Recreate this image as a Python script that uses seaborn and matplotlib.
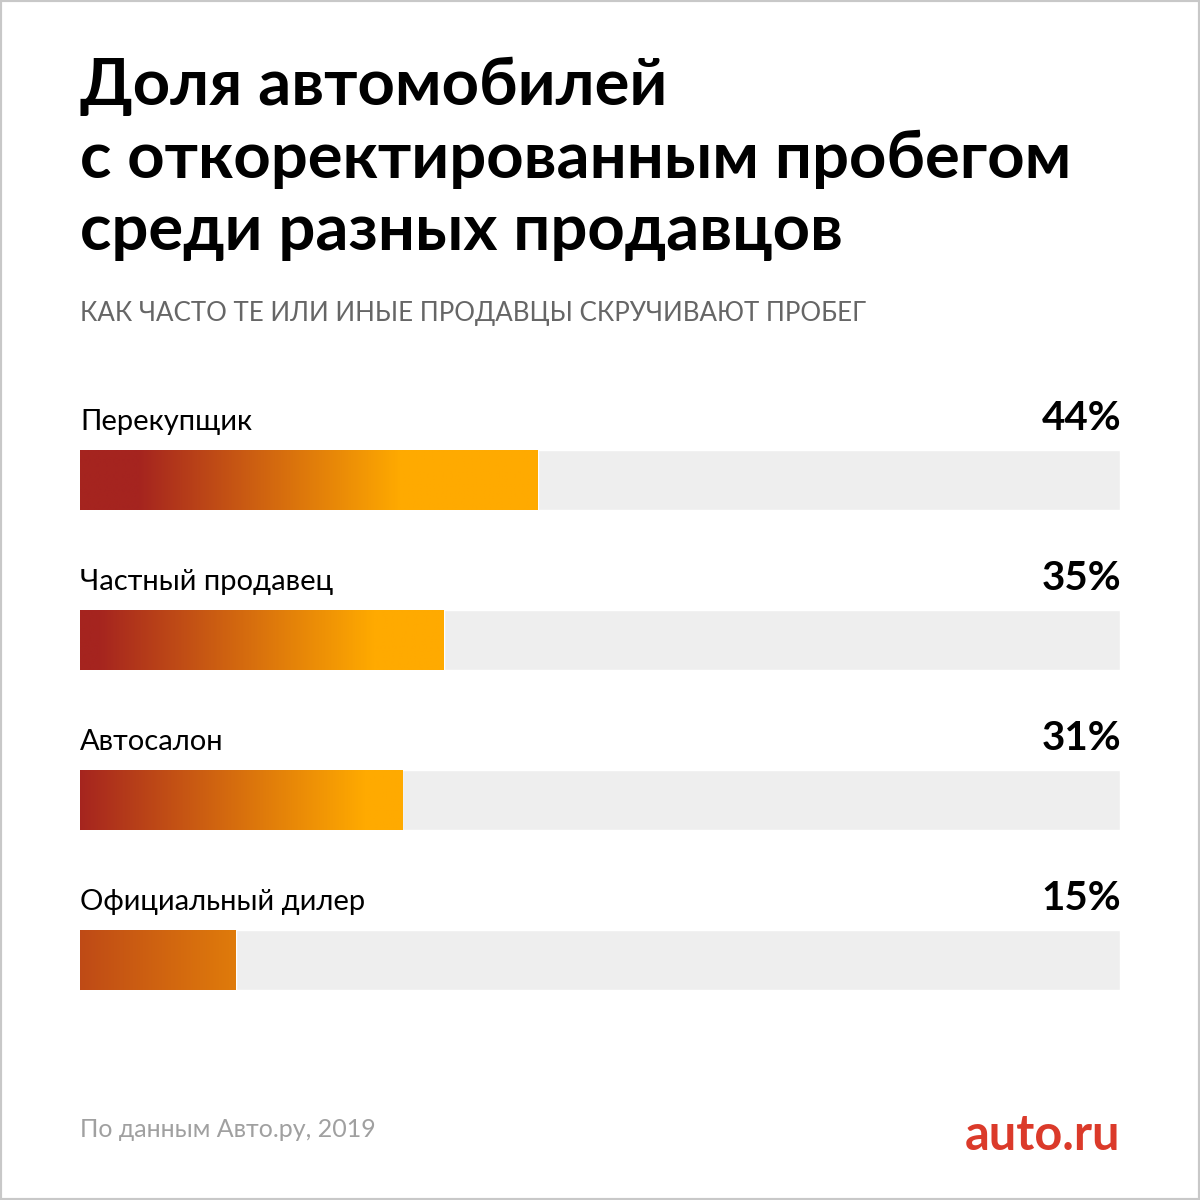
import numpy as np
import matplotlib
matplotlib.use("Agg")
import matplotlib.pyplot as plt
from matplotlib.colors import LinearSegmentedColormap
from matplotlib.patches import Rectangle
import seaborn as sns
import pandas as pd

sellers = ["Перекупщик", "Частный продавец", "Автосалон", "Официальный дилер"]
shares = [44, 35, 31, 15]
pct_labels = ["44%", "35%", "31%", "15%"]

title_lines = ["Доля автомобилей", "с откоректированным пробегом", "среди разных продавцов"]
subtitle = "КАК ЧАСТО ТЕ ИЛИ ИНЫЕ ПРОДАВЦЫ СКРУЧИВАЮТ ПРОБЕГ"
source = "По данным Авто.ру, 2019"
brand = "auto.ru"

sns.set_theme(style="white")
plt.rcParams["font.family"] = ["Lato", "DejaVu Sans"]

W = H = 1200
fig = plt.figure(figsize=(12, 12), dpi=100)
fig.patch.set_facecolor("white")

def px(x, y):
    return x / W, 1 - y / H

# bar rows: pitch 160px, bars 60px tall
ax = fig.add_axes([80 / W, 1 - 1040 / H, 1040 / W, 640 / H])
df = pd.DataFrame({"seller": sellers, "share": shares, "full": [100] * len(sellers)})
sns.barplot(data=df, x="full", y="seller", color="#EEEEEE", width=0.375,
            saturation=1, ax=ax, orient="h")
sns.barplot(data=df, x="share", y="seller", color="#FFAA00", width=0.375,
            saturation=1, ax=ax, orient="h")

cmap = LinearSegmentedColormap.from_list("grad", ["#A5241F", "#FFAA00"])
for p in ax.patches[len(sellers):]:
    x0, y0 = p.get_x(), p.get_y()
    w, h = p.get_width(), p.get_height()
    v_left = 0.55 - 0.0175 * w
    v_right = 0.2 + 0.03 * w
    xs = np.linspace(0, 1, 400)
    v = np.clip(v_left + (v_right - v_left) * xs, 0, 1)
    im = ax.imshow(v[None, :], cmap=cmap, vmin=0, vmax=1, aspect="auto",
                   extent=(x0, x0 + w, y0 + h, y0), interpolation="bilinear", zorder=3)
    im.set_clip_path(p)
ax.set_xlim(0, 100)
ax.set_ylim(3.5, -0.5)
ax.axis("off")

for i, (name, lab) in enumerate(zip(sellers, pct_labels)):
    ax.text(0, i - 0.3125, name, fontsize=21, color="black", va="baseline", ha="left")
    ax.text(100.1, i - 0.3125, lab, fontsize=29, fontweight="bold", color="black",
            va="baseline", ha="right")

for line, base in zip(title_lines, [105, 178, 250]):
    fig.text(*px(80, base), line, fontsize=47, fontweight="bold", color="black",
             va="baseline", ha="left")
fig.text(*px(80, 321), subtitle, fontsize=18.6, color="#666666", va="baseline", ha="left")
fig.text(*px(80, 1137), source, fontsize=18, color="#A0A0A0", va="baseline", ha="left")
fig.text(*px(1120, 1150), brand, fontsize=35, fontweight="bold", color="#DB3A2A",
         va="baseline", ha="right")

fig.patches.append(Rectangle((0, 0), 1, 1, transform=fig.transFigure, fill=False,
                             edgecolor="#C8C8C8", linewidth=3))

fig.savefig("out.png", dpi=100)
